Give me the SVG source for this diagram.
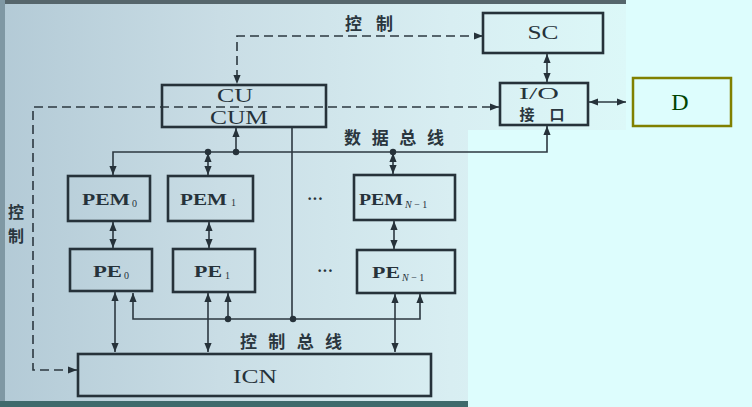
<svg xmlns="http://www.w3.org/2000/svg" width="752" height="407" viewBox="0 0 752 407">
<defs>
<linearGradient id="photo" x1="0" y1="0" x2="626" y2="0" gradientUnits="userSpaceOnUse">
<stop offset="0" stop-color="#b3cad6"/>
<stop offset="0.35" stop-color="#c9dde5"/>
<stop offset="0.72" stop-color="#d8eef2"/>
<stop offset="1" stop-color="#dcf8f8"/>
</linearGradient>
<marker id="ah" viewBox="0 0 10 10" refX="10" refY="5" markerWidth="9" markerHeight="9" markerUnits="userSpaceOnUse" orient="auto-start-reverse">
<path d="M0,1 L10,5 L0,9 Z" fill="#26323a"/>
</marker>
<style>
.box{fill:none;stroke:#26323a;stroke-width:2.6}
.ln{fill:none;stroke:#2c3840;stroke-width:1.6}
.dash{stroke-dasharray:9 5}
.dot{fill:#26323a}
.t{font-family:"Liberation Serif","DejaVu Serif",serif;fill:#26323a;font-weight:bold}
.n{font-family:"Liberation Serif","DejaVu Serif",serif;fill:#26323a;font-weight:normal}
.sub{font-family:"Liberation Serif","DejaVu Serif",serif;fill:#26323a;font-size:10px}
.zh{font-family:"Noto Sans CJK SC",sans-serif;fill:#2a363e;font-weight:bold}
</style>
</defs>
<rect x="0" y="0" width="752" height="407" fill="#ddfdfd"/>
<path d="M0,0 H626 V130 H468 V407 H0 Z" fill="url(#photo)"/>
<rect x="0" y="0" width="626" height="4" fill="#56666c"/>
<rect x="0" y="0" width="5" height="407" fill="#7f98a4"/>
<rect x="0" y="401" width="468" height="6" fill="#3f6a6c"/>

<g id="connectors">
<path class="ln dash" d="M483,36 H237 V84" marker-start="url(#ah)" marker-end="url(#ah)"/>
<path class="ln" d="M547,54 V82" marker-start="url(#ah)" marker-end="url(#ah)"/>
<path class="ln dash" d="M77,370 H33 V107 H499" marker-start="url(#ah)" marker-end="url(#ah)"/>
<path class="ln" d="M589,102 H626" marker-start="url(#ah)" marker-end="url(#ah)"/>
<path class="ln" d="M113,175 V152 H547 V126" marker-start="url(#ah)" marker-end="url(#ah)"/>
<path class="ln" d="M236,152 V128" marker-end="url(#ah)"/>
<path class="ln" d="M208,153 V175" marker-start="url(#ah)" marker-end="url(#ah)"/>
<path class="ln" d="M393,153 V174" marker-start="url(#ah)" marker-end="url(#ah)"/>
<path class="ln" d="M113,222 V248" marker-start="url(#ah)" marker-end="url(#ah)"/>
<path class="ln" d="M209,222 V248" marker-start="url(#ah)" marker-end="url(#ah)"/>
<path class="ln" d="M394,221 V249" marker-start="url(#ah)" marker-end="url(#ah)"/>
<path class="ln" d="M115,292 V352" marker-start="url(#ah)" marker-end="url(#ah)"/>
<path class="ln" d="M208,293 V352" marker-start="url(#ah)" marker-end="url(#ah)"/>
<path class="ln" d="M395,294 V352" marker-start="url(#ah)" marker-end="url(#ah)"/>
<path class="ln" d="M133,293 V319 H420 V294" marker-start="url(#ah)" marker-end="url(#ah)"/>
<path class="ln" d="M228,319 V293" marker-end="url(#ah)"/>
<path class="ln" d="M292,128 V319"/>
<circle class="dot" cx="236" cy="152" r="3.2"/>
<circle class="dot" cx="208" cy="152" r="3.2"/>
<circle class="dot" cx="393" cy="152" r="3.2"/>
<circle class="dot" cx="228" cy="319" r="3.2"/>
<circle class="dot" cx="293" cy="319" r="3.2"/>
</g>

<g id="SC">
<rect class="box" x="483" y="13" width="120" height="40"/>
<text class="n" x="543" y="39" font-size="18" text-anchor="middle" textLength="31" lengthAdjust="spacingAndGlyphs">SC</text>
</g>
<g id="IO">
<rect class="box" x="500" y="83" width="88" height="42"/>
<text class="n" x="539" y="99" font-size="17" text-anchor="middle" textLength="40" lengthAdjust="spacingAndGlyphs">I/O</text>
<text class="zh" x="542" y="120" font-size="15" font-weight="normal" text-anchor="middle" textLength="45" lengthAdjust="spacing">接口</text>
</g>
<g id="CU">
<rect class="box" x="162" y="85" width="164" height="42"/>
<text class="n" x="235" y="102" font-size="18" text-anchor="middle" textLength="36" lengthAdjust="spacingAndGlyphs">CU</text>
<text class="n" x="239" y="124" font-size="18" text-anchor="middle" textLength="58" lengthAdjust="spacingAndGlyphs">CUM</text>
</g>
<g id="PEM0">
<rect class="box" x="68" y="176" width="82" height="45"/>
<text class="t" x="82" y="205" font-size="17" textLength="48" lengthAdjust="spacingAndGlyphs">PEM</text>
<text class="sub" x="132" y="207">0</text>
</g>
<g id="PEM1">
<rect class="box" x="168" y="176" width="85" height="45"/>
<text class="t" x="180" y="205" font-size="17" textLength="47" lengthAdjust="spacingAndGlyphs">PEM</text>
<text class="sub" x="231" y="206">1</text>
</g>
<g id="PEMN">
<rect class="box" x="354" y="175" width="101" height="45"/>
<text class="t" x="359" y="205" font-size="17" textLength="44" lengthAdjust="spacingAndGlyphs">PEM</text>
<text class="sub" x="405" y="208"><tspan font-style="italic">N</tspan> − 1</text>
</g>
<g id="PE0">
<rect class="box" x="70" y="249" width="82" height="42"/>
<text class="t" x="93" y="277" font-size="17" textLength="29" lengthAdjust="spacingAndGlyphs">PE</text>
<text class="sub" x="124" y="279">0</text>
</g>
<g id="PE1">
<rect class="box" x="173" y="249" width="82" height="43"/>
<text class="t" x="194" y="277" font-size="17" textLength="28" lengthAdjust="spacingAndGlyphs">PE</text>
<text class="sub" x="225" y="279">1</text>
</g>
<g id="PEN">
<rect class="box" x="357" y="250" width="98" height="43"/>
<text class="t" x="372" y="278" font-size="17" textLength="28" lengthAdjust="spacingAndGlyphs">PE</text>
<text class="sub" x="402" y="281"><tspan font-style="italic">N</tspan> − 1</text>
</g>
<g id="ICN">
<rect class="box" x="78" y="354" width="353" height="42"/>
<text class="n" x="255" y="383" font-size="18" text-anchor="middle" textLength="44" lengthAdjust="spacingAndGlyphs">ICN</text>
</g>
<g id="D">
<rect x="633" y="78" width="98" height="48" fill="none" stroke="#808000" stroke-width="2.5"/>
<text x="680" y="110" font-family="Liberation Serif, serif" font-size="24" fill="#004400" text-anchor="middle">D</text>
</g>

<g id="labels">
<text class="zh" x="369" y="30" font-size="17" text-anchor="middle" textLength="48" lengthAdjust="spacing">控制</text>
<text class="zh" x="394" y="144" font-size="17" text-anchor="middle" textLength="100" lengthAdjust="spacing">数据总线</text>
<text class="zh" x="291" y="348" font-size="17" text-anchor="middle" textLength="102" lengthAdjust="spacing">控制总线</text>
<text class="zh" x="16" y="218" font-size="16" text-anchor="middle">控</text>
<text class="zh" x="16" y="242" font-size="16" text-anchor="middle">制</text>
<text class="t" x="315" y="204" font-size="16" text-anchor="middle">···</text>
<text class="t" x="325" y="276" font-size="16" text-anchor="middle">···</text>
</g>
</svg>
